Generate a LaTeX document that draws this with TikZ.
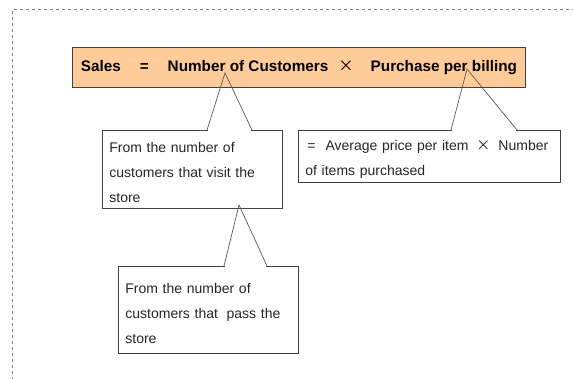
\documentclass[tikz,border=0pt]{standalone}
\usepackage{fontspec}
\setmainfont{Liberation Sans}
\newfontfamily\cjk{Noto Sans CJK JP}
\usetikzlibrary{calc}

\begin{document}
\begin{tikzpicture}[x=1pt, y=-1pt,
            formula/.style={rectangle, draw=black!75, line width=0.8pt, fill={rgb,255:red,255;green,204;blue,153}, anchor=north west, inner sep=0pt, font=\fontsize{15.3}{18}\selectfont\bfseries},
            note/.style={rectangle, draw=black!75, line width=0.8pt, fill=white, anchor=north west, inner xsep=7pt, inner ysep=0pt, align=left, text=black!85, font=\fontsize{14}{25}\selectfont},
            tail/.style={draw=black!65, line width=0.7pt},
            gap/.style={draw=white, line width=1.6pt, shorten >=0.6pt, shorten <=0.6pt}
        ]

% Page frame
            \useasboundingbox (0,0) rectangle (573,378);
            \draw[gray, dashed, line width=0.8pt] (12.5,380) -- (12.5,9.5) -- (575,9.5);

% Sales formula
            \node[formula, minimum width=453pt, minimum height=40.5pt] (formula) at (72,46.5)
                {Sales\hspace{19pt}=\hspace{19pt}Number of Customers\hspace{10pt}{\cjk\mdseries ×}\hspace{17pt}Purchase per billing};

% Notes
            \node[note, text width=166pt, minimum height=78pt] (visit) at (102,130)
                {\rule{0pt}{17pt}From the number of\\customers that visit the\\store};
            \node[note, text width=248pt, minimum height=52pt] (price) at (298,130)
                {\rule{0pt}{17pt}\hspace{2pt}=\hspace{10pt}Average price per item\hspace{8pt}{\cjk ×}\hspace{8pt}Number\\of items purchased};
            \node[note, text width=166pt, minimum height=87pt] (pass) at (118,266)
                {\rule{0pt}{17pt}From the number of\\customers that\hspace{4pt} pass the\\store};

% Tails
            \coordinate (tipvisit) at (225,73);
            \coordinate (tipprice) at (467,69);
            \coordinate (tippass) at (239,205);
            \draw[gap] ($(visit.north west)+(105,0)$) -- ($(visit.north west)+(150,0)$);
            \draw[tail] ($(visit.north west)+(105,0)$) -- (tipvisit) -- ($(visit.north west)+(150,0)$);
            \draw[gap] ($(price.north west)+(153,0)$) -- ($(price.north west)+(219,0)$);
            \draw[tail] ($(price.north west)+(153,0)$) -- (tipprice) -- ($(price.north west)+(219,0)$);
            \draw[gap] ($(pass.north west)+(106,0)$) -- ($(pass.north west)+(149,0)$);
            \draw[tail] ($(pass.north west)+(106,0)$) -- (tippass) -- ($(pass.north west)+(149,0)$);

        \end{tikzpicture}
\end{document}
